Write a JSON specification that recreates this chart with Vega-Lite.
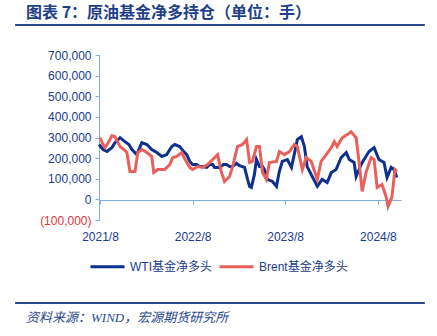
{
  "$schema": "https://vega.github.io/schema/vega-lite/v6.json",
  "autosize": {"type": "none"},
  "padding": {"left": 99, "top": 55, "right": 36, "bottom": 116},
  "width": 302,
  "height": 165,
  "config": {"view": {"stroke": null}, "font": "Liberation Sans"},
  "title": {"text": "图表 7：原油基金净多持仓（单位：手）", "anchor": "start", "frame": "group", "baseline": "bottom", "dx": -73, "offset": -13, "font": "Noto Sans CJK SC", "fontSize": 16, "fontWeight": "bold", "color": "#1f3f8a"},
  "resolve": {"axis": {"x": "independent", "y": "independent"}},
  "layer": [
    {
      "data": {"values": [
        {"date": "2021-07-28", "series": "WTI基金净多头", "v": 266000},
        {"date": "2021-08-13", "series": "WTI基金净多头", "v": 242000},
        {"date": "2021-08-29", "series": "WTI基金净多头", "v": 232000},
        {"date": "2021-09-17", "series": "WTI基金净多头", "v": 251000},
        {"date": "2021-09-29", "series": "WTI基金净多头", "v": 275000},
        {"date": "2021-10-19", "series": "WTI基金净多头", "v": 299000},
        {"date": "2021-11-07", "series": "WTI基金净多头", "v": 280000},
        {"date": "2021-11-23", "series": "WTI基金净多头", "v": 266000},
        {"date": "2021-12-05", "series": "WTI基金净多头", "v": 242000},
        {"date": "2021-12-24", "series": "WTI基金净多头", "v": 217000},
        {"date": "2022-01-13", "series": "WTI基金净多头", "v": 275000},
        {"date": "2022-02-02", "series": "WTI基金净多头", "v": 266000},
        {"date": "2022-02-21", "series": "WTI基金净多头", "v": 242000},
        {"date": "2022-03-13", "series": "WTI基金净多头", "v": 227000},
        {"date": "2022-04-02", "series": "WTI基金净多头", "v": 208000},
        {"date": "2022-04-21", "series": "WTI基金净多头", "v": 217000},
        {"date": "2022-05-11", "series": "WTI基金净多头", "v": 256000},
        {"date": "2022-05-23", "series": "WTI基金净多头", "v": 266000},
        {"date": "2022-06-11", "series": "WTI基金净多头", "v": 256000},
        {"date": "2022-06-27", "series": "WTI基金净多头", "v": 232000},
        {"date": "2022-07-09", "series": "WTI基金净多头", "v": 217000},
        {"date": "2022-07-21", "series": "WTI基金净多头", "v": 184000},
        {"date": "2022-08-01", "series": "WTI基金净多头", "v": 169000},
        {"date": "2022-08-17", "series": "WTI基金净多头", "v": 169000},
        {"date": "2022-08-29", "series": "WTI基金净多头", "v": 159000},
        {"date": "2022-09-10", "series": "WTI基金净多头", "v": 159000},
        {"date": "2022-09-26", "series": "WTI基金净多头", "v": 155000},
        {"date": "2022-10-07", "series": "WTI基金净多头", "v": 169000},
        {"date": "2022-10-19", "series": "WTI基金净多头", "v": 169000},
        {"date": "2022-10-27", "series": "WTI基金净多头", "v": 155000},
        {"date": "2022-11-16", "series": "WTI基金净多头", "v": 155000},
        {"date": "2022-12-01", "series": "WTI基金净多头", "v": 169000},
        {"date": "2022-12-13", "series": "WTI基金净多头", "v": 169000},
        {"date": "2022-12-25", "series": "WTI基金净多头", "v": 159000},
        {"date": "2023-01-06", "series": "WTI基金净多头", "v": 159000},
        {"date": "2023-01-21", "series": "WTI基金净多头", "v": 174000},
        {"date": "2023-02-02", "series": "WTI基金净多头", "v": 164000},
        {"date": "2023-02-22", "series": "WTI基金净多头", "v": 155000},
        {"date": "2023-03-06", "series": "WTI基金净多头", "v": 97000},
        {"date": "2023-03-14", "series": "WTI基金净多头", "v": 63000},
        {"date": "2023-03-21", "series": "WTI基金净多头", "v": 58000},
        {"date": "2023-04-02", "series": "WTI基金净多头", "v": 121000},
        {"date": "2023-04-10", "series": "WTI基金净多头", "v": 193000},
        {"date": "2023-04-22", "series": "WTI基金净多头", "v": 159000},
        {"date": "2023-05-04", "series": "WTI基金净多头", "v": 159000},
        {"date": "2023-05-11", "series": "WTI基金净多头", "v": 145000},
        {"date": "2023-05-23", "series": "WTI基金净多头", "v": 97000},
        {"date": "2023-06-12", "series": "WTI基金净多头", "v": 87000},
        {"date": "2023-06-28", "series": "WTI基金净多头", "v": 63000},
        {"date": "2023-07-09", "series": "WTI基金净多头", "v": 135000},
        {"date": "2023-07-21", "series": "WTI基金净多头", "v": 184000},
        {"date": "2023-08-10", "series": "WTI基金净多头", "v": 193000},
        {"date": "2023-08-26", "series": "WTI基金净多头", "v": 155000},
        {"date": "2023-09-06", "series": "WTI基金净多头", "v": 217000},
        {"date": "2023-09-18", "series": "WTI基金净多头", "v": 290000},
        {"date": "2023-10-04", "series": "WTI基金净多头", "v": 304000},
        {"date": "2023-10-16", "series": "WTI基金净多头", "v": 256000},
        {"date": "2023-10-27", "series": "WTI基金净多头", "v": 159000},
        {"date": "2023-11-16", "series": "WTI基金净多头", "v": 111000},
        {"date": "2023-12-06", "series": "WTI基金净多头", "v": 63000},
        {"date": "2023-12-25", "series": "WTI基金净多头", "v": 97000},
        {"date": "2024-01-14", "series": "WTI基金净多头", "v": 82000},
        {"date": "2024-01-30", "series": "WTI基金净多头", "v": 130000},
        {"date": "2024-02-18", "series": "WTI基金净多头", "v": 145000},
        {"date": "2024-03-09", "series": "WTI基金净多头", "v": 203000},
        {"date": "2024-03-29", "series": "WTI基金净多头", "v": 227000},
        {"date": "2024-04-10", "series": "WTI基金净多头", "v": 193000},
        {"date": "2024-04-29", "series": "WTI基金净多头", "v": 179000},
        {"date": "2024-05-07", "series": "WTI基金净多头", "v": 111000},
        {"date": "2024-05-27", "series": "WTI基金净多头", "v": 169000},
        {"date": "2024-06-07", "series": "WTI基金净多头", "v": 193000},
        {"date": "2024-06-27", "series": "WTI基金净多头", "v": 232000},
        {"date": "2024-07-17", "series": "WTI基金净多头", "v": 251000},
        {"date": "2024-08-05", "series": "WTI基金净多头", "v": 193000},
        {"date": "2024-08-25", "series": "WTI基金净多头", "v": 179000},
        {"date": "2024-09-06", "series": "WTI基金净多头", "v": 106000},
        {"date": "2024-09-22", "series": "WTI基金净多头", "v": 155000},
        {"date": "2024-10-03", "series": "WTI基金净多头", "v": 145000},
        {"date": "2024-10-15", "series": "WTI基金净多头", "v": 106000},
        {"date": "2021-08-01", "series": "Brent基金净多头", "v": 299000},
        {"date": "2021-08-13", "series": "Brent基金净多头", "v": 266000},
        {"date": "2021-08-21", "series": "Brent基金净多头", "v": 251000},
        {"date": "2021-09-05", "series": "Brent基金净多头", "v": 280000},
        {"date": "2021-09-17", "series": "Brent基金净多头", "v": 309000},
        {"date": "2021-09-29", "series": "Brent基金净多头", "v": 304000},
        {"date": "2021-10-19", "series": "Brent基金净多头", "v": 256000},
        {"date": "2021-11-03", "series": "Brent基金净多头", "v": 242000},
        {"date": "2021-11-15", "series": "Brent基金净多头", "v": 227000},
        {"date": "2021-11-27", "series": "Brent基金净多头", "v": 135000},
        {"date": "2021-12-17", "series": "Brent基金净多头", "v": 135000},
        {"date": "2021-12-28", "series": "Brent基金净多头", "v": 227000},
        {"date": "2022-01-13", "series": "Brent基金净多头", "v": 242000},
        {"date": "2022-02-02", "series": "Brent基金净多头", "v": 227000},
        {"date": "2022-02-21", "series": "Brent基金净多头", "v": 208000},
        {"date": "2022-03-01", "series": "Brent基金净多头", "v": 130000},
        {"date": "2022-03-17", "series": "Brent基金净多头", "v": 145000},
        {"date": "2022-04-13", "series": "Brent基金净多头", "v": 145000},
        {"date": "2022-05-03", "series": "Brent基金净多头", "v": 169000},
        {"date": "2022-05-15", "series": "Brent基金净多头", "v": 203000},
        {"date": "2022-05-31", "series": "Brent基金净多头", "v": 208000},
        {"date": "2022-06-19", "series": "Brent基金净多头", "v": 227000},
        {"date": "2022-07-09", "series": "Brent基金净多头", "v": 179000},
        {"date": "2022-07-21", "series": "Brent基金净多头", "v": 155000},
        {"date": "2022-08-01", "series": "Brent基金净多头", "v": 145000},
        {"date": "2022-08-21", "series": "Brent基金净多头", "v": 159000},
        {"date": "2022-09-10", "series": "Brent基金净多头", "v": 155000},
        {"date": "2022-09-29", "series": "Brent基金净多头", "v": 169000},
        {"date": "2022-10-19", "series": "Brent基金净多头", "v": 193000},
        {"date": "2022-11-08", "series": "Brent基金净多头", "v": 217000},
        {"date": "2022-11-23", "series": "Brent基金净多头", "v": 130000},
        {"date": "2022-12-05", "series": "Brent基金净多头", "v": 87000},
        {"date": "2022-12-25", "series": "Brent基金净多头", "v": 111000},
        {"date": "2023-01-06", "series": "Brent基金净多头", "v": 159000},
        {"date": "2023-01-25", "series": "Brent基金净多头", "v": 256000},
        {"date": "2023-02-14", "series": "Brent基金净多头", "v": 266000},
        {"date": "2023-03-02", "series": "Brent基金净多头", "v": 290000},
        {"date": "2023-03-14", "series": "Brent基金净多头", "v": 179000},
        {"date": "2023-03-25", "series": "Brent基金净多头", "v": 184000},
        {"date": "2023-04-10", "series": "Brent基金净多头", "v": 256000},
        {"date": "2023-04-22", "series": "Brent基金净多头", "v": 256000},
        {"date": "2023-05-04", "series": "Brent基金净多头", "v": 130000},
        {"date": "2023-05-19", "series": "Brent基金净多头", "v": 97000},
        {"date": "2023-05-31", "series": "Brent基金净多头", "v": 179000},
        {"date": "2023-06-28", "series": "Brent基金净多头", "v": 184000},
        {"date": "2023-07-09", "series": "Brent基金净多头", "v": 232000},
        {"date": "2023-07-29", "series": "Brent基金净多头", "v": 217000},
        {"date": "2023-08-18", "series": "Brent基金净多头", "v": 232000},
        {"date": "2023-09-06", "series": "Brent基金净多头", "v": 266000},
        {"date": "2023-09-18", "series": "Brent基金净多头", "v": 256000},
        {"date": "2023-10-08", "series": "Brent基金净多头", "v": 145000},
        {"date": "2023-10-23", "series": "Brent基金净多头", "v": 203000},
        {"date": "2023-11-12", "series": "Brent基金净多头", "v": 184000},
        {"date": "2023-12-06", "series": "Brent基金净多头", "v": 97000},
        {"date": "2023-12-21", "series": "Brent基金净多头", "v": 184000},
        {"date": "2024-01-10", "series": "Brent基金净多头", "v": 217000},
        {"date": "2024-01-30", "series": "Brent基金净多头", "v": 251000},
        {"date": "2024-02-11", "series": "Brent基金净多头", "v": 280000},
        {"date": "2024-02-22", "series": "Brent基金净多头", "v": 256000},
        {"date": "2024-03-13", "series": "Brent基金净多头", "v": 299000},
        {"date": "2024-04-02", "series": "Brent基金净多头", "v": 314000},
        {"date": "2024-04-17", "series": "Brent基金净多头", "v": 328000},
        {"date": "2024-05-07", "series": "Brent基金净多头", "v": 299000},
        {"date": "2024-05-19", "series": "Brent基金净多头", "v": 179000},
        {"date": "2024-05-31", "series": "Brent基金净多头", "v": 39000},
        {"date": "2024-06-15", "series": "Brent基金净多头", "v": 130000},
        {"date": "2024-07-05", "series": "Brent基金净多头", "v": 203000},
        {"date": "2024-07-17", "series": "Brent基金净多头", "v": 193000},
        {"date": "2024-07-29", "series": "Brent基金净多头", "v": 58000},
        {"date": "2024-08-17", "series": "Brent基金净多头", "v": 72000},
        {"date": "2024-09-02", "series": "Brent基金净多头", "v": 14000},
        {"date": "2024-09-10", "series": "Brent基金净多头", "v": -34000},
        {"date": "2024-09-25", "series": "Brent基金净多头", "v": 10000},
        {"date": "2024-10-07", "series": "Brent基金净多头", "v": 145000},
        {"date": "2024-10-15", "series": "Brent基金净多头", "v": 135000}
      ]},
      "mark": {"type": "line", "strokeWidth": 3},
      "encoding": {
        "x": {
          "field": "date", "type": "temporal",
          "scale": {"type": "utc", "domain": [{"year": 2021, "month": 7, "date": 28, "utc": true}, {"year": 2024, "month": 10, "date": 31, "utc": true}]},
          "axis": {
            "orient": "bottom", "offset": -20, "grid": false, "title": null,
            "values": [{"year": 2021, "month": 8, "date": 1, "utc": true}, {"year": 2022, "month": 8, "date": 1, "utc": true}, {"year": 2023, "month": 8, "date": 1, "utc": true}, {"year": 2024, "month": 8, "date": 1, "utc": true}],
            "labelExpr": "utcFormat(datum.value, '%Y/%-m')",
            "domainColor": "#7eaee0", "tickColor": "#7eaee0", "tickSize": 4,
            "labelPadding": 27, "labelFontSize": 12, "labelColor": "#203c8c", "labelFlush": false, "labelOverlap": false
          }
        },
        "y": {
          "field": "v", "type": "quantitative",
          "scale": {"domain": [-100000, 700000], "nice": false, "zero": false},
          "axis": {
            "values": [-100000, 0, 100000, 200000, 300000, 400000, 500000, 600000, 700000],
            "title": null, "grid": false, "labelOverlap": false,
            "domainColor": "#7eaee0", "tickColor": "#7eaee0", "tickSize": 4,
            "labelExpr": "datum.value < 0 ? '(' + format(-datum.value, ',') + ')' : format(datum.value, ',')",
            "labelColor": {"condition": {"test": "datum.value < 0", "value": "#e8333a"}, "value": "#203c8c"},
            "labelFontSize": 12, "labelPadding": 4
          }
        },
        "color": {
          "field": "series", "type": "nominal",
          "scale": {"domain": ["WTI基金净多头", "Brent基金净多头"], "range": ["#0d2f8f", "#e9605b"]},
          "legend": {
            "title": null, "orient": "none", "direction": "horizontal", "legendX": -16, "legendY": 187,
            "symbolType": "stroke", "symbolStrokeWidth": 3, "symbolSize": 1156,
            "labelFontSize": 12, "labelColor": "#203c8c", "labelFont": "Liberation Sans, Noto Sans CJK SC",
            "columnPadding": 1, "labelOffset": 4, "padding": 6
          }
        }
      }
    },
    {
      "data": {"values": [{}]},
      "mark": {"type": "rect", "color": "#2a4a8c"},
      "encoding": {
        "x": {"datum": {"year": 2020, "month": 8, "date": 31, "utc": true}, "type": "temporal", "axis": null},
        "x2": {"datum": {"year": 2025, "month": 2, "date": 2, "utc": true}},
        "y": {"datum": 850000, "type": "quantitative", "axis": null},
        "y2": {"datum": 840500}
      }
    },
    {
      "data": {"values": [{}]},
      "mark": {"type": "rule", "color": "#2a4a8c", "strokeWidth": 2, "strokeCap": "butt"},
      "encoding": {
        "x": {"datum": {"year": 2020, "month": 8, "date": 31, "utc": true}, "type": "temporal", "axis": null},
        "x2": {"datum": {"year": 2025, "month": 2, "date": 2, "utc": true}},
        "y": {"datum": -502400, "type": "quantitative", "axis": null}
      }
    },
    {
      "data": {"values": [{}]},
      "mark": {"type": "text", "text": "资料来源：WIND，宏源期货研究所", "align": "left", "baseline": "middle", "font": "Liberation Serif, Noto Sans CJK SC", "fontSize": 13, "fontStyle": "italic", "color": "#2a4a8c"},
      "encoding": {
        "x": {"datum": {"year": 2020, "month": 10, "date": 13, "utc": true}, "type": "temporal", "axis": null},
        "y": {"datum": -575150, "type": "quantitative", "axis": null}
      }
    }
  ]
}
